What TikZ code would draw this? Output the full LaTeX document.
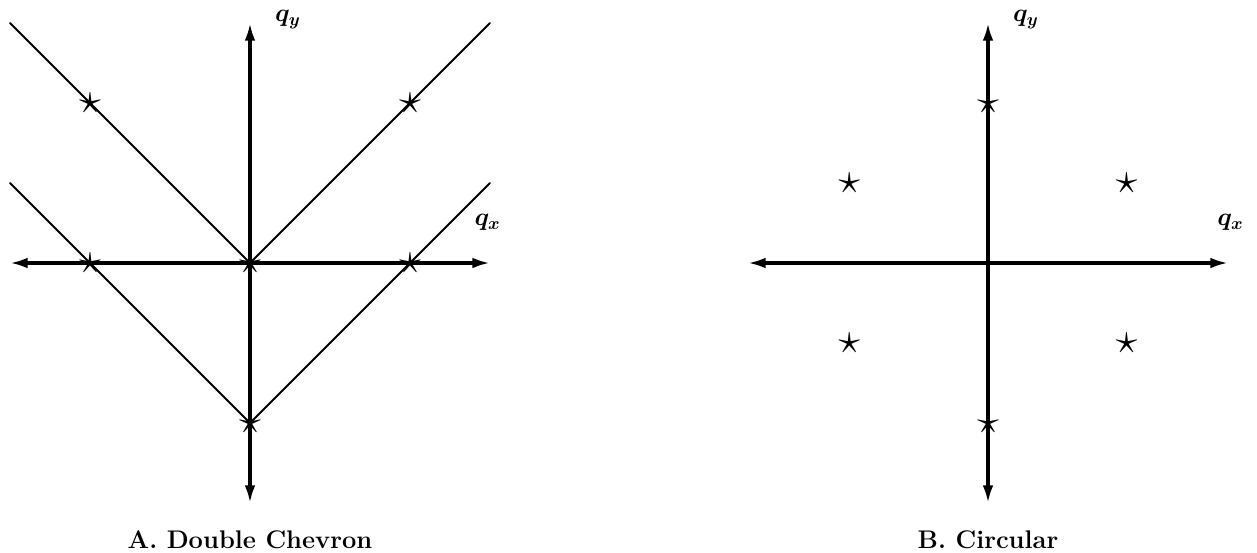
\documentclass[tikz,border=0pt]{standalone}
\usetikzlibrary{arrows.meta}

\begin{document}
\begin{tikzpicture}[x=1.6cm,y=1.6cm,line cap=round,line join=round,
  axis/.style={line width=1.8pt,{Latex[length=10pt,width=6pt]}-{Latex[length=10pt,width=6pt]}},
  chev/.style={line width=1.1pt},
  spot/.style={inner sep=0pt,font=\fontsize{28}{28}\selectfont},
  qlabel/.style={font=\Large\boldmath},
  caption/.style={font=\fontsize{14.5}{17}\selectfont\bfseries}]
\useasboundingbox (-3.125,-3.6125) rectangle (12.5875,3.2875);
\begin{scope}[shift={(0,0)}]
\draw[chev] (-3,3) -- (0,0) -- (3,3);
\draw[chev] (-3,1) -- (0,-2) -- (3,1);
\draw[axis] (-3,0) -- (3,0);
\draw[axis] (0,-3) -- (0,3);
\foreach \x/\y [count=\i] in {-2/2,2/2,-2/0,0/0,2/0,0/-2}
  \node[spot] (a\i) at (\x,\y) {$\star$};
\node[qlabel] (aqy) at (0.475,3.04) {$q_y$};
\node[qlabel] (aqx) at (2.97,0.51) {$q_x$};
\node[caption] (acap) at (0,-3.46) {A. Double Chevron};
\end{scope}
\begin{scope}[shift={(9.225,0)}]
\draw[axis] (-3,0) -- (3,0);
\draw[axis] (0,-3) -- (0,3);
\foreach \a [count=\i] in {30,90,...,330}
  \node[spot] (b\i) at (\a:2) {$\star$};
\node[qlabel] (bqy) at (0.475,3.04) {$q_y$};
\node[qlabel] (bqx) at (3.03,0.51) {$q_x$};
\node[caption] (bcap) at (0,-3.46) {B. Circular};
\end{scope}
\end{tikzpicture}
\end{document}
